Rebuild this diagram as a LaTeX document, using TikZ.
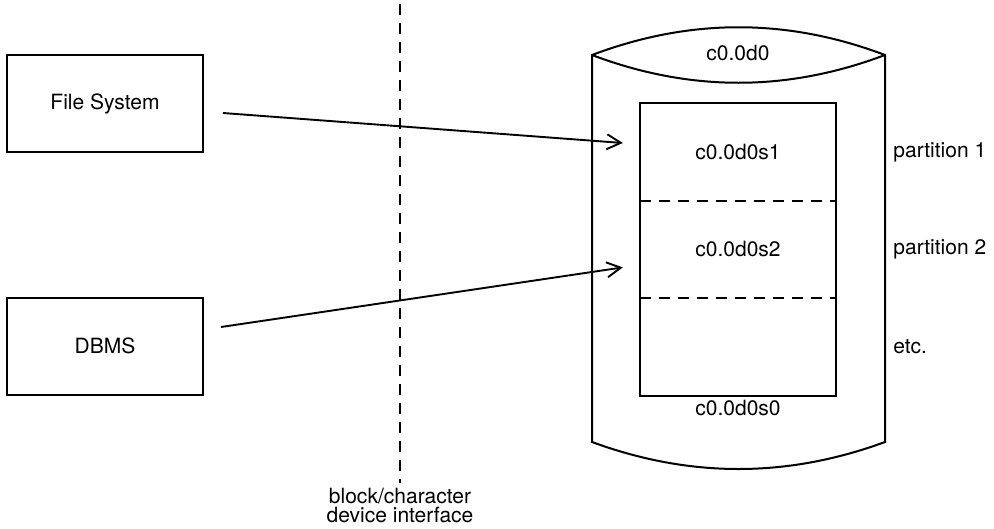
\documentclass[tikz,border=0pt]{standalone}
\usepackage{fontspec}
\setmainfont{TeX Gyre Heros}
\usetikzlibrary{positioning,arrows.meta,calc}

\begin{document}
\begin{tikzpicture}
      [x=1pt, y=-1pt,
        >={Straight Barb[length=14pt,width=15pt]},
        every node/.style={font=\fontsize{21}{18}\selectfont},
        line/.style={draw, line width=1.9pt, ->},
        frame/.style={draw, line width=2pt},
        host/.style={
          rectangle,
          draw, line width=2pt,
          minimum width=196pt,
          minimum height=97pt,
        },
        slice/.style={rectangle, minimum width=196pt, minimum height=97pt},
        cut/.style={line width=1.6pt, dash pattern=on 11pt off 8pt}]
      \useasboundingbox (0,0) rectangle (994,528);
      \node[host] (filesys) at (105,103.5) {File System};
      \node[host] (dbms) at (105,346) {DBMS};

      % the disk
      \draw[frame] (592,55) .. controls (690,18) and (787,18) .. (885,55)
        -- (885,442) .. controls (787,478) and (690,478) .. (592,442) -- cycle;
      \draw[frame] (592,55) .. controls (690,92) and (787,92) .. (885,55);
      \node (disk) at (738,53) {c0.0d0};

      % slices
      \node[slice] (s1) at (738,152) {c0.0d0s1};
      \node[slice, below=0pt of s1] (s2) {c0.0d0s2};
      \node[slice, below=0pt of s2] (s3) {};
      \draw[frame] (s1.north west) rectangle (s3.south east);
      \draw[cut] (s1.south west) -- (s1.south east);
      \draw[cut] (s2.south west) -- (s2.south east);
      \node[below=4pt of s3, inner sep=0pt] (whole) {c0.0d0s0};
      \node[right=57pt of s1, inner sep=0pt] (part1) {partition 1};
      \node[right=57pt of s2, inner sep=0pt] (part2) {partition 2};
      \node[right=57pt of s3, inner sep=0pt] (etc) {etc.};

      % interface
      \node[inner sep=0pt] (iface) at (400,496) {block/character};
      \node[inner sep=0pt, below=3pt of iface] (dev) {device interface};
      \coordinate (itop) at (400,4);
      \draw[cut] (itop) -- ([yshift=5pt]iface.north);

      \draw[line] ([shift={(19,9.5)}]filesys.east) -- ([shift={(-17,-9)}]s1.west);
      \draw[line] ([shift={(17,-19)}]dbms.east) -- ([shift={(-17,18)}]s2.west);
    \end{tikzpicture}
\end{document}
